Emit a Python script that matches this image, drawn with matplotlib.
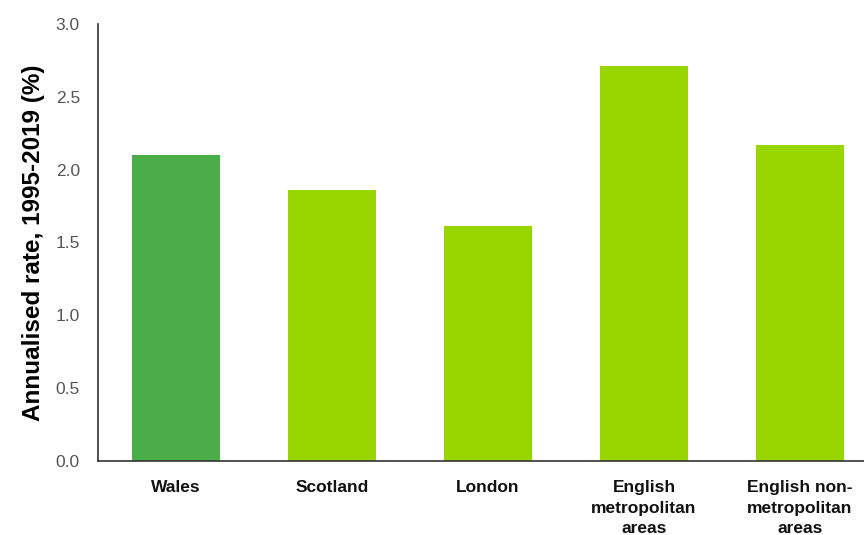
import matplotlib
matplotlib.use("Agg")
from matplotlib import pyplot as plt

# data
regions = ["Wales", "Scotland", "London", "English\nmetropolitan\nareas", "English non-\nmetropolitan\nareas"]
rates = [2.10, 1.86, 1.61, 2.71, 2.17]
bar_colors = ["#4aad4a", "#99d600", "#99d600", "#99d600", "#99d600"]

plt.rcParams['font.family'] = ['Liberation Sans', 'DejaVu Sans']

fig = plt.figure(figsize=(8.64, 5.35), dpi=100)
ax = fig.add_axes([98/864, 1 - 461/535, 780/864, 437/535])

x = range(len(regions))
ax.bar(x, rates, width=0.56, color=bar_colors)

ax.set_xlim(-0.5, len(regions) - 0.5)
ax.set_ylim(0, 3.0)
ax.set_yticks([0.0, 0.5, 1.0, 1.5, 2.0, 2.5, 3.0])
ax.set_yticklabels(["%.1f" % v for v in ax.get_yticks()], fontsize=12.5, color="#555555")
ax.set_xticks(list(x))
ax.set_xticklabels(regions, fontsize=12.5, fontweight="bold", color="#111111", linespacing=1.45, va="top")
ax.tick_params(axis="both", length=0)
ax.tick_params(axis="y", pad=13)
ax.tick_params(axis="x", pad=14)

ax.set_ylabel("Annualised rate, 1995-2019 (%)", fontsize=17.5, fontweight="bold")
ax.yaxis.set_label_coords(-53/780, 0.5)

for s in ["top", "right"]:
    ax.spines[s].set_visible(False)
for s in ["left", "bottom"]:
    ax.spines[s].set_color("#333333")
    ax.spines[s].set_linewidth(1.2)

fig.savefig("out.png", dpi=100)
